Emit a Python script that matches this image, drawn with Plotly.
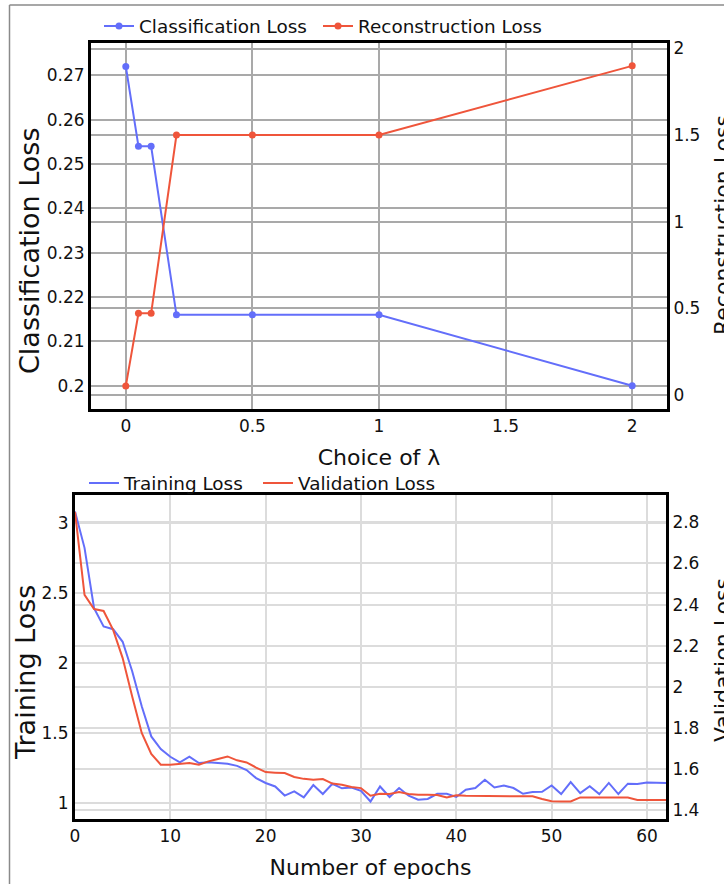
import plotly.graph_objects as go

# --- data: loss vs. lambda ---
lam = [0, 0.05, 0.1, 0.2, 0.5, 1, 2]
cls_loss = [0.272, 0.254, 0.254, 0.216, 0.216, 0.216, 0.200]
rec_loss = [0.05, 0.47, 0.47, 1.50, 1.50, 1.50, 1.90]

# --- data: training curves ---
epochs = list(range(63))
train_loss = [
    3.08, 2.82, 2.39, 2.26, 2.24, 2.15, 1.94, 1.69, 1.475, 1.385,
    1.33, 1.29, 1.33, 1.285, 1.29, 1.285, 1.28, 1.265, 1.235, 1.178,
    1.143, 1.118, 1.053, 1.083, 1.04, 1.128, 1.064, 1.137, 1.105, 1.11,
    1.087, 1.011, 1.118, 1.043, 1.107, 1.052, 1.024, 1.029, 1.066, 1.066,
    1.043, 1.095, 1.107, 1.166, 1.111, 1.125, 1.107, 1.066, 1.078, 1.08,
    1.125, 1.064, 1.149, 1.071, 1.12, 1.064, 1.143, 1.064, 1.138, 1.135,
    1.147, 1.145, 1.143,
]
val_loss = [
    2.85, 2.447, 2.378, 2.369, 2.277, 2.14, 1.953, 1.776, 1.674, 1.622,
    1.622, 1.627, 1.63, 1.622, 1.638, 1.65, 1.662, 1.643, 1.633, 1.608,
    1.586, 1.583, 1.581, 1.562, 1.553, 1.549, 1.552, 1.53, 1.524, 1.514,
    1.508, 1.471, 1.481, 1.479, 1.489, 1.48, 1.476, 1.476, 1.475, 1.463,
    1.473, 1.471, 1.471, 1.471, 1.47, 1.471, 1.471, 1.468, 1.468, 1.455,
    1.444, 1.443, 1.443, 1.463, 1.463, 1.463, 1.463, 1.463, 1.462, 1.45,
    1.45, 1.45, 1.45,
]

W, H = 724, 884
BLUE, RED = "#636EFA", "#EF553B"
FONT = "DejaVu Sans"
INK = "#111"


def px_x(p):
    return p / W


def px_y(p):
    return 1 - p / H


fig = go.Figure()

fig.add_trace(go.Scatter(
    x=lam, y=cls_loss, name="Classification Loss", mode="lines+markers",
    line=dict(color=BLUE, width=2), marker=dict(size=7, color=BLUE),
    xaxis="x", yaxis="y", legend="legend", showlegend=True,
))
fig.add_trace(go.Scatter(
    x=lam, y=rec_loss, name="Reconstruction Loss", mode="lines+markers",
    line=dict(color=RED, width=2), marker=dict(size=7, color=RED),
    xaxis="x", yaxis="y2", legend="legend2", showlegend=True,
))
fig.add_trace(go.Scatter(
    x=epochs, y=train_loss, name="Training Loss", mode="lines",
    line=dict(color=BLUE, width=2), xaxis="x2", yaxis="y3", legend="legend3",
    showlegend=True,
))
fig.add_trace(go.Scatter(
    x=epochs, y=val_loss, name="Validation Loss", mode="lines",
    line=dict(color=RED, width=2), xaxis="x2", yaxis="y4", legend="legend4",
    showlegend=True,
))

tick_font = dict(family=FONT, size=17, color=INK)
title_font = dict(family=FONT, size=22, color=INK)
top_grid = dict(showgrid=True, gridcolor="#a9a9a9", gridwidth=1.5)
bot_grid = dict(showgrid=True, gridcolor="#dcdcdc", gridwidth=1.5)
frame = dict(showline=True, linecolor="black", linewidth=3, mirror=True,
             zeroline=False, automargin=False, ticks="", tickfont=tick_font)
side_frame = {k: v for k, v in frame.items() if k != "mirror"}

top_xdom = [px_x(91), px_x(667)]
top_ydom = [px_y(409), px_y(43)]
bot_xdom = [px_x(75), px_x(666)]
bot_ydom = [px_y(819), px_y(495)]


def legend_at(x_px, y_px):
    return dict(orientation="h", x=px_x(x_px), y=px_y(y_px), xanchor="left",
                yanchor="middle", font=dict(family=FONT, size=18.4, color=INK),
                bgcolor="rgba(0,0,0,0)")


def y_title(text, x_px, y_px, size):
    return dict(text=text, xref="paper", yref="paper", x=px_x(x_px), y=px_y(y_px),
                xanchor="center", yanchor="middle", textangle=-90, showarrow=False,
                font=dict(family=FONT, size=size, color=INK))


fig.update_layout(
    width=W, height=H,
    margin=dict(l=0, r=0, t=0, b=0),
    showlegend=True,
    paper_bgcolor="white", plot_bgcolor="white",
    font=dict(family=FONT, color=INK),
    xaxis=dict(domain=top_xdom, anchor="y", range=[-0.1375, 2.1375],
               dtick=0.5, title=dict(text="Choice of λ", font=title_font),
               **top_grid, **frame),
    yaxis=dict(domain=top_ydom, anchor="x", range=[0.19476, 0.2773],
               dtick=0.01, **top_grid, **frame),
    yaxis2=dict(overlaying="y", side="right", anchor="x", range=[-0.0825, 2.032],
                dtick=0.5, **top_grid, **side_frame),
    xaxis2=dict(domain=bot_xdom, anchor="y3", range=[0, 62], dtick=10,
                title=dict(text="Number of epochs", font=title_font),
                **bot_grid, **frame),
    yaxis3=dict(domain=bot_ydom, anchor="x2", range=[0.886, 3.197], dtick=0.5,
                **bot_grid, **frame),
    yaxis4=dict(overlaying="y3", side="right", anchor="x2", range=[1.358, 2.9325],
                dtick=0.2, **bot_grid, **side_frame),
    legend=legend_at(99, 26),
    legend2=legend_at(318, 26),
    legend3=legend_at(84, 483),
    legend4=legend_at(258, 483),
    annotations=[
        y_title("Classification Loss", 29, 251, 27),
        y_title("Reconstruction Loss", 722, 225, 22),
        y_title("Training Loss", 25, 673, 27),
        y_title("Validation Loss", 722, 660, 22),
    ],
    shapes=[
        dict(type="line", xref="paper", yref="paper", x0=px_x(9.5), x1=px_x(9.5),
             y0=0, y1=px_y(5), line=dict(color="#8a8a8a", width=1.5)),
        dict(type="line", xref="paper", yref="paper", x0=px_x(9.5), x1=1,
             y0=px_y(5), y1=px_y(5), line=dict(color="#8a8a8a", width=1.5)),
    ],
)

fig.write_html("out.html")
